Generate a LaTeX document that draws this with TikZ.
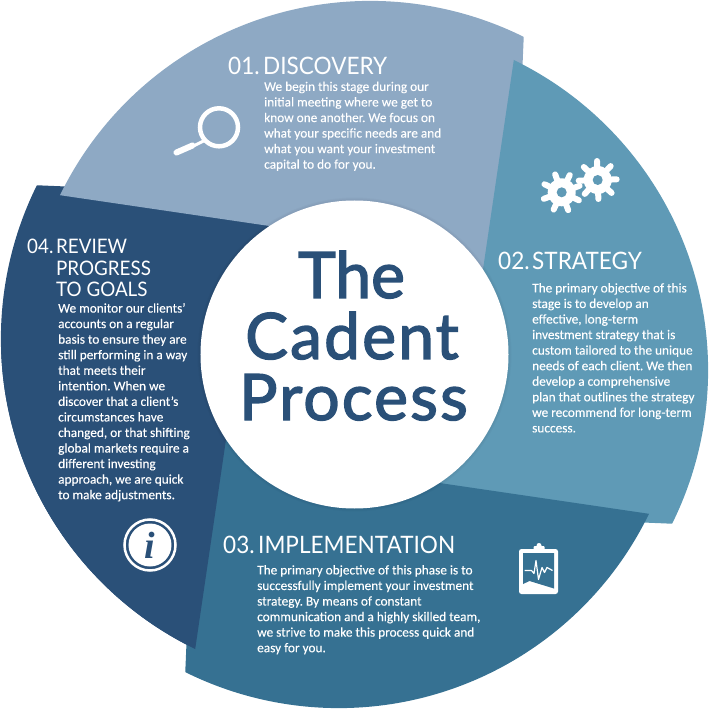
\documentclass[tikz,border=0pt]{standalone}
\usepackage{fontspec}
\setmainfont[FakeBold=0.15]{Carlito}
\newfontfamily\headfont[FakeStretch=0.94]{Lato}
\newfontfamily\titlefont[FakeBold=2.2]{Lato}
\newfontfamily\titlewide[FakeBold=2.2,LetterSpace=3.5]{Lato}
\newfontfamily\iconfont{Liberation Serif}
\definecolor{discoveryblue}{HTML}{8EA9C4}
\definecolor{strategyblue}{HTML}{5F9AB6}
\definecolor{implementblue}{HTML}{367192}
\definecolor{reviewblue}{HTML}{2A5078}
\newcommand{\stagenum}[2][35pt]{\makebox[#1][l]{#2}}
\newcommand{\petal}[2]{\fill[#2,rotate=#1] (-294.5,159.3) arc[start angle=154.1,end angle=63.6,radius=345] -- (168,288.5) -- (160,100) -- (125,0) -- (0,0) -- (0,116) -- cycle;}
\tikzset{
    stagehead/.style={anchor=base west,inner sep=0,text=white,font=\headfont\fontsize{24}{21.5}\selectfont,align=left},
    stagebody/.style={anchor=north west,inner sep=0,text=white,font=\frenchspacing\fontsize{13.3}{15.55}\selectfont,align=left},
    titleline/.style={anchor=base,inner sep=0,text=reviewblue,font=\titlewide\fontsize{64}{64}\selectfont},
}
\begin{document}
\begin{tikzpicture}[x=1pt,y=1pt]
    \useasboundingbox (-354.5,-354.5) rectangle (354.5,354.5);

    % wheel
    \petal{90}{reviewblue}
    \petal{0}{discoveryblue}
    \petal{-90}{strategyblue}
    \petal{-180}{implementblue}
    \begin{scope}
        \clip (-360,-360) rectangle (0,0);
        \petal{90}{reviewblue}
    \end{scope}

    % centre
    \foreach \r in {157,156,155}
        \fill[black,opacity=0.02] (0,0) circle (\r);
    \fill[white] (0,0) circle (154);
    \node[titleline,font=\titlefont\fontsize{64}{64}\selectfont] (titlethe) at (-3,56.5) {The};
    \node[titleline] (titlecadent) at (-2.5,-4.5) {Cadent};
    \node[titleline] (titleprocess) at (-1,-65.5) {Process};

    % headings
    \node[stagehead] (headone) at (-126.5,280) {\stagenum{01.}DISCOVERY};
    \node[stagehead] (headtwo) at (143.5,85) {\stagenum[34pt]{02.}STRATEGY};
    \node[stagehead] (headthree) at (-131.5,-198.5) {\stagenum{03.}IMPLEMENTATION};
    \node[stagehead,anchor=north west,font=\headfont\fontsize{20}{21.5}\selectfont] (headfour) at (-327.5,115.5) {\stagenum[29pt]{04.}REVIEW\\\hspace*{29pt}PROGRESS\\\hspace*{29pt}TO GOALS};

    % texts
    \node[stagebody] (bodyone) at (-90.5,273) {We begin this stage during our\\initial meeting where we get to\\know one another. We focus on\\what your specific needs are and\\what you want your investment\\capital to do for you.};
    \node[stagebody] (bodytwo) at (177.5,71.5) {The primary objective of this\\stage is to develop an\\effective, long-term\\investment strategy that is\\custom tailored to the unique\\needs of each client. We then\\develop a comprehensive\\plan that outlines the strategy\\we recommend for long-term\\success.};
    \node[stagebody] (bodythree) at (-97.5,-210.5) {The primary objective of this phase is to\\successfully implement your investment\\strategy. By means of constant\\communication and a highly skilled team,\\we strive to make this process quick and\\easy for you.};
    \node[stagebody] (bodyfour) at (-296.5,51.5) {We monitor our clients’\\accounts on a regular\\basis to ensure they are\\still performing in a way\\that meets their\\intention. When we\\discover that a client’s\\circumstances have\\changed, or that shifting\\global markets require a\\different investing\\approach, we are quick\\to make adjustments.};

    % magnifier
    \draw[white,line width=4.5] (-135.5,227.2) circle (19);
    \draw[white,line width=3] (-148,215) -- (-160,209);
    \draw[white,line width=6,line cap=round] (-162,209) -- (-178,202);

    % gears
    \foreach \gx/\gy/\turn in {207.2/162.2/20,243.2/174.5/2}{
        \fill[white] (\gx,\gy) circle (14);
        \foreach \k in {0,45,...,315}
            \draw[white,line width=6,line cap=round] (\gx,\gy) -- ++(\turn+\k:19);
        \fill[strategyblue] (\gx,\gy) circle (5);
    }

    % clipboard
    \fill[white,rounded corners=2.5] (164.5,-194.5) rectangle (203.5,-239.5);
    \fill[implementblue] (168.5,-198.5) -- (199.5,-198.5) -- (199.5,-234) -- (175,-226.5) -- (168.5,-229.5) -- cycle;
    \fill[white,rounded corners=1] (179,-191.5) rectangle (190,-198);
    \fill[white] (184.5,-191) circle (2.5);
    \draw[white,line width=1.2,line join=round] (170,-216) -- (177,-216) -- (179.5,-219) -- (181.5,-206) -- (184,-225) -- (187.5,-213) -- (190,-218) -- (192.5,-213) -- (198,-216);

    % info
    \draw[white,line width=2.5] (-204.5,-190.5) circle (25.5);
    \fill[white] (-204.5,-190.5) circle (21.5);
    \node[inner sep=0,text=reviewblue,font=\iconfont\bfseries\itshape\fontsize{38}{38}\selectfont] (infomark) at (-204.5,-190.5) {i};
\end{tikzpicture}
\end{document}
